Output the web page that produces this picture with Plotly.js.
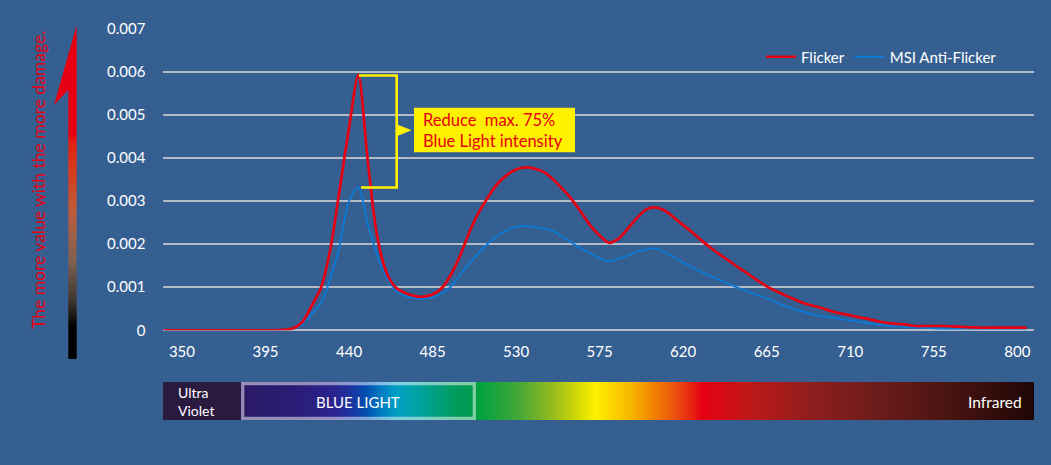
<!DOCTYPE html>
<html>
<head>
<meta charset="utf-8">
<script src="https://cdn.plot.ly/plotly-3.0.1.min.js"></script>
<style>
html,body{margin:0;padding:0;background:#365f91;}
#chart{width:1051px;height:465px;}
</style>
</head>
<body>
<div id="chart"></div>
<script>
// ---------- data ----------
const wavelength = [340,345,350,355,360,365,370,375,380,385,390,395,400,405,410,415,420,425,430,435,
  440,445,450,455,460,465,470,475,480,485,490,495,500,505,510,515,520,525,530,535,
  540,545,550,555,560,565,570,575,580,585,590,595,600,605,610,615,620,625,630,635,
  640,645,650,655,660,665,670,675,680,685,690,695,700,705,710,715,720,725,730,735,
  740,745,750,755,760,765,770,775,780,785,790,795,800,805];

const flicker = [0,0,0,0,0,0,0,0,0,0,0,0,0,0.00001,0.000046,0.0002,0.00058,0.001,0.0019,0.00328,
  0.0047,0.00592,0.00397,0.00222,0.00136,0.001,0.00087,0.0008,0.00078,0.00083,0.00098,0.0013,0.00175,0.0023,0.00274,0.0031,0.0034,0.0036,0.00373,0.00378,
  0.00375,0.00367,0.0035,0.00328,0.00304,0.00274,0.00243,0.0022,0.00203,0.00212,0.00235,0.0026,0.0028,0.00285,0.00278,0.00262,0.00244,0.00227,0.00208,0.00191,
  0.00175,0.0016,0.00145,0.00131,0.00116,0.00102,0.00091,0.00081,0.00072,0.00063,0.00057,0.00051,0.00044,0.00039,0.00035,0.0003,0.00026,0.00021,0.00017,0.00015,
  0.00013,0.0001,0.0001,0.0001,0.0001,0.00009,0.00008,0.00007,0.00006,0.00006,0.00006,0.00006,0.00006,0.00006];

const antiFlicker = [0,0,0,0,0,0,0,0,0,0,0,0,0,0.00001,0.00004,0.00015,0.00038,0.00064,0.0012,0.00198,
  0.003,0.00332,0.00248,0.00176,0.00125,0.00093,0.0008,0.00075,0.00073,0.00077,0.00086,0.00102,0.0013,0.00156,0.0018,0.00202,0.0022,0.00232,0.0024,0.00242,
  0.0024,0.00236,0.0023,0.00217,0.00203,0.0019,0.00178,0.00167,0.00161,0.00166,0.00173,0.00182,0.00188,0.0019,0.00181,0.0017,0.00157,0.00146,0.00135,0.00125,
  0.00116,0.00107,0.00098,0.0009,0.00082,0.00074,0.00065,0.00056,0.00048,0.00043,0.00037,0.00033,0.0003,0.00026,0.00023,0.0002,0.000165,0.00014,0.00011,0.00009,
  0.000075,0.000065,0.000055,0.000046,0.00004,0.00004,0.00004,0.00004,0.00004,0.00004,0.00004,0.00004,0.00004,0.00004];

const seriesNames = ['Flicker', 'MSI Anti-Flicker'];
const xTickStart = 350, xTickStep = 45;
const yTickStep = 0.001;

// ---------- styles ----------
const FONT = 'Lato, "Noto Sans", sans-serif';
const RED = '#e60012';
const BLUE = '#0a7ad6';
const YELLOW = '#fff100';
const GRID = '#b4bac6';

// decoration layer uses a pixel coordinate system (x2 / y2)
const spectrumScale = [
  [0,'#2b1a40'],[0.0884,'#2b1a40'],[0.0901,'#2a1a66'],[0.157,'#2b1c78'],[0.1975,'#2a2490'],
  [0.217,'#1c34a2'],[0.2342,'#0052b2'],[0.2526,'#0080c2'],[0.2687,'#00a0c2'],[0.2916,'#00a2a4'],
  [0.3295,'#009c66'],[0.357,'#009a48'],[0.3617,'#00a040'],[0.4064,'#40a838'],[0.4443,'#90b820'],
  [0.4822,'#e0e000'],[0.496,'#fff000'],[0.5362,'#f8b800'],[0.559,'#f28a00'],[0.584,'#ec5a0c'],
  [0.605,'#e82812'],[0.619,'#e60012'],[0.6705,'#c01818'],[0.7463,'#8e1e1e'],[0.8232,'#6a1c1a'],[0.9001,'#4a1412'],
  [0.9759,'#2a0a08'],[1,'#1c0604']];

const arrowScale = [
  [0,'#000000'],[0.096,'#000000'],[0.126,'#181410'],[0.177,'#403830'],[0.228,'#5a4a40'],
  [0.296,'#806050'],[0.377,'#a06048'],[0.455,'#c05a38'],[0.515,'#cc4828'],[0.575,'#d8381c'],
  [0.647,'#e02010'],[0.677,'#e60012'],[1,'#e60012']];

const traces = [
  {x: wavelength, y: antiFlicker, name: seriesNames[1], type: 'scatter', mode: 'lines',
   line: {color: BLUE, width: 1.8, shape: 'spline', smoothing: 0.8}, hoverinfo: 'x+y+name'},
  {x: wavelength, y: flicker, name: seriesNames[0], type: 'scatter', mode: 'lines',
   line: {color: RED, width: 2.7, shape: 'spline', smoothing: 0.8}, hoverinfo: 'x+y+name'},
  // spectrum bar
  {x: [163,1034,1034,163,163], y: [382,382,420,420,382], xaxis: 'x2', yaxis: 'y2',
   type: 'scatter', mode: 'lines', line: {width: 0, color: 'rgba(0,0,0,0)'}, fill: 'toself',
   fillcolor: '#888', fillgradient: {type: 'horizontal', start: 163, stop: 1034, colorscale: spectrumScale},
   showlegend: false, hoverinfo: 'skip'},
  // damage arrow
  {x: [76.7,76.7,68.3,68.3,54,76.7], y: [25,359,359,90,105,25], xaxis: 'x2', yaxis: 'y2',
   type: 'scatter', mode: 'lines', line: {width: 0, color: 'rgba(0,0,0,0)'}, fill: 'toself',
   fillcolor: RED, fillgradient: {type: 'vertical', start: 359, stop: 25, colorscale: arrowScale},
   showlegend: false, hoverinfo: 'skip'}
];

function pxText(text, x, y, opts) {
  return Object.assign({text: text, x: x, y: y, xref: 'x2', yref: 'y2', showarrow: false,
    xanchor: 'center', yanchor: 'middle', font: {family: FONT, size: 15.5, color: '#ffffff'}}, opts || {});
}

const annotations = [
  pxText('The more value with the more damage.', 38, 180, {textangle: -90, font: {family: FONT, size: 17.5, color: RED}}),
  pxText('Reduce\u00a0 max. 75%<br>Blue Light intensity', 421, 130.5,
    {xanchor: 'left', align: 'left', font: {family: FONT, size: 16.5, color: RED}}),
  pxText('Ultra<br>Violet', 176, 401, {xanchor: 'left', align: 'left', font: {family: FONT, size: 14, color: '#ffffff'}}),
  pxText('BLUE LIGHT', 358, 402, {font: {family: FONT, size: 15, color: '#ffffff'}}),
  pxText('Infrared', 1024, 402, {xanchor: 'right'})
];

const shapes = [
  // blue-light frame
  {type: 'rect', xref: 'x2', yref: 'y2', x0: 242.7, x1: 474.3, y0: 383.7, y1: 418.3,
   line: {color: 'rgba(255,255,255,0.5)', width: 3.3}, fillcolor: 'rgba(0,0,0,0)', layer: 'above'},
  // yellow callout box
  {type: 'rect', xref: 'x2', yref: 'y2', x0: 414, x1: 575, y0: 107.7, y1: 152.3,
   line: {width: 0}, fillcolor: YELLOW, layer: 'above'},
  // bracket
  {type: 'path', xref: 'x2', yref: 'y2', path: 'M 359 75.5 H 396.7 V 187.5 H 361',
   line: {color: YELLOW, width: 2.6}, layer: 'above'},
  // pointer triangle
  {type: 'path', xref: 'x2', yref: 'y2', path: 'M 396.7 124.3 L 411.7 130.3 L 396.7 136.3 Z',
   line: {width: 0}, fillcolor: YELLOW, layer: 'above'}
];

const layout = {
  width: 1051, height: 465,
  margin: {l: 0, r: 0, t: 0, b: 0, pad: 0},
  paper_bgcolor: '#365f91',
  plot_bgcolor: 'rgba(0,0,0,0)',
  font: {family: FONT, color: '#ffffff', size: 15},
  showlegend: true,
  legend: {orientation: 'h', x: 1002/1051, xanchor: 'right', y: 1 - 57/465, yanchor: 'middle',
    font: {family: FONT, size: 15, color: '#ffffff'}, bgcolor: 'rgba(0,0,0,0)', traceorder: 'reversed',
    itemwidth: 30},
  xaxis: {domain: [163.4/1051, 1034/1051], range: [340, 809], tickmode: 'linear', tick0: xTickStart,
    dtick: xTickStep, showgrid: false, zeroline: false, showline: false, ticks: '',
    tickfont: {family: FONT, size: 15, color: '#ffffff'}, ticklabelstandoff: 11, fixedrange: true,
    automargin: false},
  yaxis: {domain: [(465-330.3)/465, (465-28.6)/465], range: [0, 0.007], tickmode: 'linear', tick0: 0,
    dtick: yTickStep, showgrid: true, gridcolor: GRID, gridwidth: 1.6, zeroline: true,
    zerolinecolor: GRID, zerolinewidth: 1.6, showline: false, ticks: '',
    tickfont: {family: FONT, size: 15, color: '#ffffff'}, ticklabelstandoff: 17, fixedrange: true,
    automargin: false},
  xaxis2: {domain: [0, 1], range: [0, 1051], visible: false, fixedrange: true, anchor: 'y2'},
  yaxis2: {domain: [0, 1], range: [465, 0], visible: false, fixedrange: true, anchor: 'x2'},
  annotations: annotations,
  shapes: shapes
};

Plotly.newPlot('chart', traces, layout, {displayModeBar: false, responsive: false});
</script>
</body>
</html>
